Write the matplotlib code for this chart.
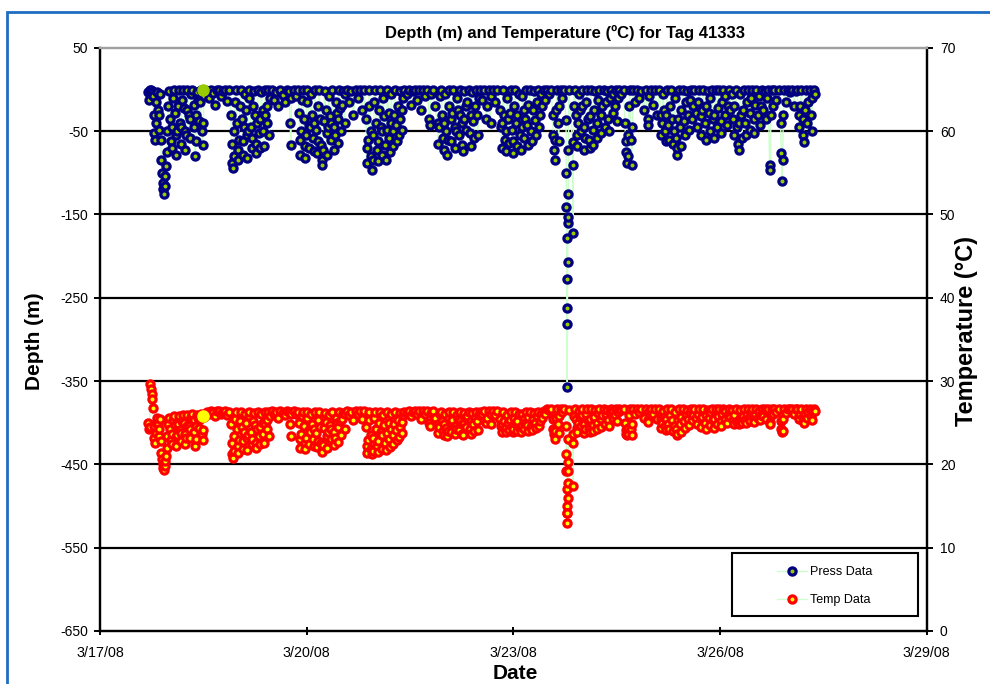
import matplotlib
matplotlib.use('Agg')
import matplotlib.pyplot as plt
import matplotlib.dates as mdates
from matplotlib.lines import Line2D
from matplotlib.patches import Rectangle
import numpy as np
from datetime import datetime

plt.rcParams['font.family'] = ['Liberation Sans', 'DejaVu Sans']
plt.rcParams['axes.unicode_minus'] = False

# time in days after 3/17/08 00:00, depth in m, temperature in degC
day = [
    # 3/17 evening - 3/18
    0.70, 0.71, 0.72, 0.73, 0.74, 0.75, 0.76, 0.77, 0.78, 0.79, 0.80, 0.81, 0.82, 0.83, 0.84, 0.85,
    0.86, 0.87, 0.88, 0.89, 0.90, 0.91, 0.92, 0.93, 0.94, 0.95, 0.96, 0.97, 0.98, 0.99, 1.00,
    1.02, 1.03, 1.04, 1.05, 1.06, 1.07, 1.09, 1.10, 1.11, 1.12, 1.13, 1.14, 1.16, 1.17, 1.18, 1.19, 1.20,
    1.22, 1.23, 1.24, 1.25, 1.26, 1.27, 1.29, 1.30, 1.31, 1.32, 1.34, 1.36, 1.37, 1.38, 1.39, 1.40, 1.41,
    1.43, 1.44, 1.45, 1.46, 1.48, 1.49, 1.50, 1.51, 1.52,
    1.55, 1.58, 1.61, 1.64, 1.67, 1.70, 1.73, 1.76, 1.79, 1.82, 1.85, 1.88,
    1.90, 1.91, 1.92, 1.93, 1.94, 1.95, 1.96, 1.97, 1.99, 2.00, 2.01, 2.02, 2.03, 2.04,
    2.06, 2.07, 2.08, 2.09, 2.10, 2.12, 2.13, 2.14, 2.15, 2.16, 2.17, 2.19, 2.20, 2.21, 2.22, 2.23,
    2.25, 2.26, 2.27, 2.28, 2.29, 2.31, 2.32, 2.33, 2.34, 2.36, 2.37, 2.38, 2.39, 2.40, 2.42, 2.43, 2.44,
    2.46, 2.47,
    2.50, 2.53, 2.56, 2.59, 2.62, 2.65, 2.68, 2.71, 2.74, 2.76, 2.77, 2.78, 2.81, 2.84, 2.87,
    # 3/19 - 3/20
    2.89, 2.90, 2.91, 2.92, 2.93, 2.94, 2.96, 2.97, 2.98, 2.99, 3.00, 3.01, 3.03, 3.04, 3.05, 3.06,
    3.08, 3.09, 3.10, 3.11, 3.12, 3.14, 3.15, 3.16, 3.17, 3.18, 3.20, 3.21, 3.22, 3.23, 3.24, 3.25, 3.26,
    3.28, 3.29, 3.30, 3.31, 3.32, 3.34, 3.35, 3.36, 3.37, 3.39, 3.40, 3.41, 3.42, 3.44, 3.45, 3.46, 3.47,
    3.49, 3.50, 3.51, 3.53, 3.55, 3.56,
    3.59, 3.62, 3.65, 3.68, 3.71, 3.74, 3.77, 3.80, 3.83,
    3.86, 3.87, 3.88, 3.89, 3.90, 3.91, 3.93, 3.94, 3.95, 3.96, 3.97, 3.98, 3.99,
    4.01, 4.02, 4.03, 4.04, 4.05, 4.06, 4.08, 4.09, 4.10, 4.11, 4.13, 4.14, 4.15, 4.16, 4.17,
    4.19, 4.20, 4.21, 4.22, 4.23, 4.25, 4.26, 4.27, 4.28, 4.30, 4.31, 4.32, 4.34, 4.35, 4.36,
    4.38, 4.39, 4.40, 4.42,
    4.45, 4.48, 4.51, 4.54, 4.57, 4.60, 4.63, 4.66, 4.69, 4.72, 4.75, 4.78, 4.79, 4.80, 4.83, 4.86,
    # 3/21 - 3/22
    4.90, 4.91, 4.92, 4.93, 4.95, 4.97, 4.98, 4.99, 5.00, 5.01, 5.03, 5.04, 5.05, 5.06, 5.07,
    5.09, 5.10, 5.11, 5.13, 5.15, 5.16, 5.17, 5.18, 5.20, 5.21, 5.22, 5.23,
    5.25, 5.26, 5.27, 5.28, 5.29, 5.31, 5.32, 5.33, 5.35, 5.37, 5.38, 5.39, 5.40,
    5.42, 5.43, 5.44, 5.46, 5.48, 5.49, 5.50, 5.52,
    5.55, 5.58, 5.61, 5.62, 5.64, 5.67, 5.68, 5.71, 5.74, 5.77, 5.80,
    5.82, 5.83, 5.84, 5.85, 5.87, 5.88, 5.89, 5.90, 5.91, 5.93, 5.94, 5.95, 5.96,
    5.98, 5.99, 6.00, 6.01, 6.02, 6.04, 6.05, 6.06, 6.08, 6.10, 6.11, 6.12, 6.13,
    6.15, 6.16, 6.17, 6.18, 6.20, 6.21, 6.22, 6.24, 6.26, 6.27, 6.28, 6.30,
    6.32, 6.33, 6.34, 6.36, 6.38, 6.39, 6.40, 6.42, 6.44, 6.46,
    6.49, 6.52, 6.55, 6.57, 6.58, 6.59, 6.60, 6.61, 6.62, 6.63, 6.65, 6.66, 6.67, 6.69, 6.71, 6.73,
    # deep dive on 3/23
    6.765, 6.768, 6.771, 6.774, 6.777, 6.780, 6.783, 6.786, 6.789, 6.792, 6.795, 6.798, 6.801, 6.805,
    6.860, 6.865, 6.870, 6.875,
    6.89, 6.91, 6.92, 6.93, 6.94, 6.95, 6.97, 6.98, 6.99, 7.00, 7.02, 7.03, 7.04, 7.05, 7.07,
    7.09, 7.10, 7.11, 7.12, 7.13, 7.15, 7.16, 7.17, 7.19, 7.21, 7.22, 7.23, 7.25,
    7.27, 7.28, 7.29, 7.31, 7.33, 7.34, 7.36, 7.38, 7.39, 7.40, 7.42, 7.44, 7.45, 7.47, 7.49,
    7.51, 7.52, 7.54,
    7.57, 7.60, 7.62, 7.63, 7.64, 7.65, 7.66, 7.67, 7.68, 7.69, 7.71, 7.72, 7.73, 7.74,
    7.77, 7.80, 7.83, 7.86, 7.89, 7.92, 7.95, 7.96, 7.97, 8.00, 8.03, 8.06, 8.09, 8.12,
    # 3/25 - 3/27
    8.14, 8.15, 8.16, 8.17, 8.19, 8.20, 8.21, 8.22, 8.23, 8.25, 8.26, 8.27, 8.29,
    8.31, 8.32, 8.33, 8.34, 8.36, 8.37, 8.38, 8.39, 8.40, 8.42, 8.43, 8.44, 8.46,
    8.48, 8.49, 8.50, 8.52, 8.54, 8.55, 8.56, 8.58, 8.60, 8.61, 8.63, 8.65,
    8.67, 8.68, 8.70, 8.72, 8.73, 8.74, 8.76, 8.78, 8.79, 8.80, 8.82, 8.84, 8.85, 8.86, 8.88,
    8.90, 8.91, 8.92, 8.94, 8.96, 8.97, 8.99, 9.01, 9.02, 9.03, 9.05, 9.07, 9.08, 9.10, 9.11,
    9.13, 9.15, 9.17,
    9.19, 9.20, 9.21, 9.23, 9.25, 9.26, 9.27, 9.28, 9.29, 9.31, 9.32, 9.33, 9.35,
    9.37, 9.38, 9.39, 9.41, 9.43, 9.44, 9.45, 9.47, 9.49, 9.50, 9.51, 9.53,
    9.55, 9.56, 9.58, 9.59, 9.61, 9.63, 9.65, 9.67, 9.68, 9.70, 9.72, 9.73, 9.74, 9.75,
    9.77, 9.79, 9.82, 9.85, 9.88, 9.89, 9.90, 9.91, 9.92, 9.93,
    9.96, 9.99, 10.02, 10.05, 10.08, 10.10, 10.12, 10.14, 10.15, 10.16, 10.18,
    10.20, 10.21, 10.22, 10.23, 10.25, 10.27, 10.28, 10.30, 10.32, 10.33, 10.34, 10.36, 10.38,
]

depth = [
    -3, -12, -2, 0, -1, -2, -4, -8, -30, -52, -60, -40, -15, -3, -25, -48,
    -30, -5, -60, -85, -100, -112, -120, -125, -116, -104, -92, -75, -50, -20, -2,
    -35, -62, -70, -45, -10, 0, -28, -55, -78, -50, -20, -1, -40, -65, -45, -12, 0,
    -22, -50, -72, -55, -25, 0, -30, -58, -35, -5, 0, -18, -45, -80, -62, -30, -3,
    -12, -38, -15, -1, -50, -66, -40, -8, 0,
    -2, -10, 0, -4, -18, -1, 0, -8, -2, 0, -14, -1,
    -30, -65, -88, -94, -80, -50, -15, 0, -40, -72, -85, -60, -20, 0,
    -35, -62, -78, -45, -5, -25, -55, -82, -50, -10, 0, -45, -70, -58, -20, -2,
    -30, -65, -76, -40, 0, -52, -70, -35, -3, -25, -50, -68, -30, 0, -40, -20, -1,
    -55, -10,
    0, -12, -3, -20, 0, -6, -15, 0, -2, -40, -66, -10, 0, -8, 0,
    -28, -60, -78, -50, -12, 0, -35, -68, -82, -55, -15, 0, -42, -70, -45, -5,
    -30, -58, -74, -40, 0, -48, -76, -62, -20, 0, -35, -66, -84, -90, -72, -38, -2,
    -25, -52, -78, -45, -8, -32, -60, -40, 0, -45, -72, -55, -15, -28, -64, -35, 0,
    -22, -50, -18, -2, -40, -5,
    0, -15, -2, -30, 0, -10, -1, -25, 0,
    -35, -70, -88, -60, -20, 0, -50, -80, -96, -85, -55, -15, 0,
    -40, -72, -86, -62, -25, 0, -45, -78, -50, -10, -32, -66, -84, -48, 0,
    -28, -58, -75, -40, -5, -50, -68, -30, 0, -42, -62, -20, -55, -35, -2,
    -25, -48, -10, 0,
    -5, 0, -18, -2, 0, -12, -1, -25, 0, -8, 0, -35, -42, -5, 0, -20,
    -40, -65, -45, -8, 0, -30, -58, -72, -40, -5, -50, -78, -60, -20, 0,
    -35, -62, -28, 0, -45, -70, -50, -10, -25, -55, -30, 0,
    -40, -66, -74, -35, -2, -20, -48, -15, 0, -52, -68, -30, -3,
    -38, -58, -20, 0, -30, -55, -10, 0,
    -12, 0, -35, -20, 0, -40, -8, 0, -15, 0, -25,
    -45, -70, -40, 0, -30, -60, -74, -50, -10, -35, -64, -28, 0,
    -48, -76, -62, -20, 0, -40, -68, -30, -5, -55, -72, -45, -8,
    -25, -58, -35, 0, -42, -66, -18, 0, -50, -62, -25, -2,
    -36, -55, -15, 0, -45, -30, -5, -20, 0, -12,
    0, -5, 0, -30, -55, -72, -85, -60, -25, 0, -40, -62, -20, 0, -10, 0,
    -36, -100, -141, -178, -228, -281, -357, -262, -207, -160, -153, -126, -72, 0,
    -63, -172, -90, -20,
    0, -30, -55, -68, -40, -5, -25, -50, -20, 0, -45, -72, -58, -15, 0,
    -35, -60, -70, -32, 0, -48, -66, -25, -2, -40, -58, -12, 0,
    -30, -52, -20, 0, -45, -15, -2, -35, -50, -10, 0, -28, -5, -20, 0,
    -38, -10, 0,
    -5, 0, -40, -62, -75, -88, -80, -55, -20, 0, -60, -90, -45, 0,
    -15, 0, -10, -2, -25, 0, -35, -42, -8, 0, -18, -1, -30, 0,
    -30, -55, -40, -5, -25, -50, -62, -30, 0, -42, -60, -20, 0,
    -35, -65, -50, -10, -58, -78, -70, -35, 0, -45, -68, -25, 0,
    -38, -55, -15, -2, -30, -48, -12, 0, -35, -20, 0, -28,
    -45, -15, 0, -32, -55, -25, 0, -40, -60, -20, -2, -28, -50, -10, 0,
    -35, -58, -30, 0, -45, -22, 0, -38, -52, -15, 0, -30, -8, -42, -20,
    0, -25, -5,
    -35, -55, -20, 0, -45, -65, -72, -40, -5, -30, -58, -25, 0,
    -40, -55, -15, 0, -28, -48, -10, 0, -35, -52, -18, 0,
    -30, -8, -42, -20, 0, -25, -2, -35, -10, 0, -90, -96, -30, 0,
    -20, 0, -12, 0, -40, -76, -110, -85, -30, 0,
    -15, 0, -3, 0, -20, -2, 0, -30, -45, -20, 0,
    -35, -55, -63, -25, 0, -40, -15, 0, -30, -50, -10, 0, -5,
]

temp = [
    25.0, 24.2, 24.5, 29.6, 29.0, 28.5, 27.8, 26.8, 24.6, 23.2, 22.6, 23.8, 25.0, 25.6, 24.8, 23.4,
    24.2, 25.5, 22.8, 21.4, 20.7, 20.0, 19.6, 19.3, 19.8, 20.4, 21.0, 22.0, 23.4, 24.9, 25.6,
    24.3, 22.9, 22.5, 23.7, 25.3, 25.8, 24.7, 23.3, 22.2, 23.5, 24.9, 25.8, 24.1, 22.8, 23.8, 25.2, 25.9,
    25.0, 23.6, 22.4, 23.2, 24.6, 25.9, 24.6, 23.2, 24.3, 25.7, 26.0, 25.3, 23.9, 22.2, 23.0, 24.6, 25.9,
    25.6, 24.4, 25.4, 26.0, 23.7, 22.9, 24.1, 25.7, 26.1,
    26.3, 26.0, 26.4, 26.3, 25.8, 26.4, 26.4, 26.1, 26.3, 26.4, 25.9, 26.3,
    24.8, 22.6, 21.2, 20.8, 21.6, 23.4, 25.5, 26.3, 24.2, 22.2, 21.4, 22.9, 25.2, 26.3,
    24.5, 22.8, 21.9, 23.9, 26.0, 25.0, 23.2, 21.7, 23.5, 25.8, 26.3, 23.9, 22.5, 23.1, 25.2, 26.2,
    24.7, 22.6, 22.0, 24.2, 26.3, 23.4, 22.4, 24.5, 26.1, 25.0, 23.6, 22.6, 24.8, 26.3, 24.3, 25.3, 26.3,
    23.4, 25.8,
    26.4, 26.0, 26.3, 25.6, 26.4, 26.2, 25.9, 26.4, 26.3, 24.9, 23.4, 26.0, 26.4, 26.1, 26.3,
    25.0, 23.0, 22.0, 23.6, 25.8, 26.3, 24.6, 22.6, 21.8, 23.2, 25.6, 26.3, 24.1, 22.4, 23.9, 26.0,
    24.8, 23.1, 22.2, 24.2, 26.3, 23.8, 22.1, 22.8, 25.3, 26.3, 24.5, 22.6, 21.7, 21.5, 22.3, 24.4, 26.2,
    25.1, 23.4, 22.0, 23.9, 25.9, 24.7, 23.0, 24.2, 26.3, 23.9, 22.3, 23.2, 25.6, 25.0, 22.7, 24.5, 26.3,
    25.2, 23.5, 25.4, 26.2, 24.3, 26.0,
    26.4, 25.9, 26.3, 25.3, 26.4, 26.1, 26.4, 25.5, 26.4,
    24.5, 22.2, 21.4, 22.9, 25.3, 26.3, 23.5, 21.8, 21.2, 21.6, 23.2, 25.6, 26.3,
    24.2, 22.2, 21.5, 22.8, 25.0, 26.3, 23.9, 21.9, 23.5, 25.9, 24.7, 22.6, 21.7, 23.8, 26.3,
    25.0, 23.1, 22.1, 24.2, 26.1, 23.5, 22.5, 24.8, 26.3, 24.1, 22.9, 25.3, 23.3, 24.5, 26.2,
    25.1, 23.8, 25.9, 26.3,
    26.2, 26.4, 25.8, 26.3, 26.4, 26.0, 26.4, 25.5, 26.4, 26.1, 26.4, 25.0, 24.6, 26.2, 26.4, 25.6,
    24.8, 23.8, 24.5, 26.0, 26.3, 25.2, 24.0, 23.5, 24.8, 26.1, 24.4, 23.4, 24.0, 25.6, 26.3,
    25.0, 23.9, 25.3, 26.3, 24.6, 23.6, 24.3, 25.9, 25.4, 24.1, 25.2, 26.3,
    24.8, 23.7, 23.5, 25.0, 26.2, 25.6, 24.5, 25.8, 26.3, 24.3, 23.7, 25.2, 26.2,
    24.9, 24.0, 25.6, 26.3, 25.2, 24.1, 25.9, 26.3,
    26.0, 26.4, 25.0, 25.6, 26.4, 24.8, 26.1, 26.4, 25.9, 26.4, 25.5,
    24.6, 23.9, 24.8, 26.3, 25.2, 24.2, 23.9, 24.5, 25.9, 25.0, 24.1, 25.3, 26.3,
    24.6, 23.9, 24.2, 25.6, 26.3, 24.8, 24.0, 25.2, 26.1, 24.4, 23.9, 24.6, 26.0,
    25.4, 24.3, 25.0, 26.3, 24.7, 24.0, 25.7, 26.3, 24.5, 24.1, 25.4, 26.2,
    25.0, 24.4, 25.8, 26.3, 24.6, 25.2, 26.1, 25.6, 26.4, 26.0,
    26.6, 26.5, 26.6, 25.4, 24.2, 23.6, 23.0, 24.0, 25.6, 26.6, 24.9, 23.8, 25.8, 26.6, 26.3, 26.7,
    24.6, 21.2, 19.2, 17.0, 15.0, 14.2, 13.0, 14.2, 16.0, 17.8, 19.2, 20.3, 23.0, 26.5,
    23.6, 17.4, 22.6, 25.8,
    26.6, 25.5, 24.4, 23.9, 25.0, 26.4, 25.7, 24.6, 25.9, 26.6, 24.8, 23.8, 24.3, 26.1, 26.6,
    25.3, 24.2, 23.9, 25.4, 26.6, 24.7, 24.0, 25.7, 26.5, 25.0, 24.3, 26.2, 26.6,
    25.5, 24.5, 25.9, 26.6, 24.8, 26.1, 26.5, 25.3, 24.6, 26.3, 26.6, 25.6, 26.4, 25.9, 26.6,
    25.2, 26.3, 26.6,
    26.5, 26.6, 25.0, 24.1, 23.7, 23.5, 23.6, 24.4, 25.9, 26.6, 24.2, 23.5, 24.8, 26.6,
    26.1, 26.6, 26.3, 26.6, 25.6, 26.6, 25.3, 25.1, 26.4, 26.6, 26.0, 26.6, 25.4, 26.6,
    25.4, 24.4, 25.0, 26.4, 25.7, 24.6, 24.1, 25.4, 26.6, 24.9, 24.2, 25.9, 26.6,
    25.3, 24.0, 24.6, 26.3, 24.2, 23.5, 23.7, 25.3, 26.6, 24.8, 23.9, 25.7, 26.6,
    25.2, 24.4, 26.1, 26.5, 25.4, 24.7, 26.2, 26.6, 25.3, 25.9, 26.6, 25.6,
    24.8, 26.1, 26.6, 25.4, 24.5, 25.7, 26.6, 25.0, 24.3, 25.9, 26.5, 25.6, 24.7, 26.3, 26.6,
    25.3, 24.4, 25.4, 26.6, 24.9, 25.8, 26.6, 25.2, 24.6, 26.1, 26.6, 25.4, 26.4, 25.0, 25.9,
    26.6, 25.7, 26.5,
    25.3, 24.9, 25.9, 26.6, 25.1, 25.0, 24.9, 25.3, 26.5, 25.6, 25.0, 25.8, 26.6,
    25.3, 25.0, 26.1, 26.6, 25.7, 25.2, 26.3, 26.6, 25.5, 25.1, 26.0, 26.6,
    25.6, 26.4, 25.3, 25.9, 26.6, 25.8, 26.6, 25.5, 26.4, 26.6, 25.1, 24.9, 25.9, 26.6,
    26.0, 26.6, 26.3, 26.6, 25.2, 24.2, 23.9, 24.0, 25.5, 26.6,
    26.2, 26.7, 26.6, 26.7, 26.1, 26.6, 26.7, 25.8, 25.4, 26.1, 26.7,
    25.7, 25.2, 25.0, 26.0, 26.7, 25.6, 26.3, 26.7, 25.8, 25.3, 26.4, 26.7, 26.4,
]

# the one highlighted (selected) sample
hl_day = [1.49]
hl_depth = [0]
hl_temp = [25.8]

depth_ticks = [-650, -550, -450, -350, -250, -150, -50, 50]
temp_ticks = [0, 10, 20, 30, 40, 50, 60, 70]
tick_days = [0, 3, 6, 9, 12]
date_labels = ['3/17/08', '3/20/08', '3/23/08', '3/26/08', '3/29/08']

start = mdates.date2num(datetime(2008, 3, 17))
t = start + np.array(day)
t_hl = start + np.array(hl_day)

fig = plt.figure(figsize=(9.9, 6.84), dpi=100)
ax = fig.add_axes([0.101, 0.0775, 0.835, 0.8525])
ax2 = ax.twinx()

line_c = '#CCFFCC'
press_kw = dict(color=line_c, lw=1.0, marker='o', ms=5.2, mec='#000080', mfc='#99CC00', mew=2.3)
temp_kw = dict(color=line_c, lw=1.0, marker='o', ms=5.2, mec='#FF0000', mfc='#FFFF00', mew=2.3)

for y in depth_ticks[1:-1]:
    ax.axhline(y, color='black', lw=1.6, zorder=0.5)

ax.plot(t, depth, zorder=2, **press_kw)
ax.plot(t_hl, hl_depth, 'o', ms=8, mfc='#99CC00', mec='#99CC00', zorder=3)
ax2.plot(t, temp, zorder=2, **temp_kw)
ax2.plot(t_hl, hl_temp, 'o', ms=8, mfc='#FFFF00', mec='#FFFF00', zorder=3)

ax.set_xlim(start, start + 12)
ax.set_ylim(-650, 50)
ax2.set_ylim(0, 70)
ax.set_yticks(depth_ticks)
ax2.set_yticks(temp_ticks)
ax.set_xticks(start + np.array(tick_days))
ax.set_xticklabels(date_labels)

for a in (ax, ax2):
    for s in ('left', 'right', 'bottom'):
        a.spines[s].set_color('black')
        a.spines[s].set_linewidth(1.6)
    a.spines['top'].set_color('#A0A0A0')
    a.spines['top'].set_linewidth(1.6)

ax.tick_params(axis='y', direction='out', length=4.5, width=1.4, labelsize=10, pad=4)
ax.tick_params(axis='x', direction='inout', length=6, width=1.4, labelsize=10.3, pad=8)
ax2.tick_params(axis='y', direction='out', length=4.5, width=1.4, labelsize=10, pad=5)

fig.text(565 / 990, 1 - 33 / 684, 'Depth (m) and Temperature (ºC) for Tag 41333',
         ha='center', va='center', fontsize=12, fontweight='bold')
fig.text(34 / 990, 1 - 341 / 684, 'Depth (m)', rotation=90, ha='center', va='center',
         fontsize=15, fontweight='bold')
fig.text(966 / 990, 1 - 331 / 684, 'Temperature (°C)', rotation=90, ha='center', va='center',
         fontsize=17, fontweight='bold')
# the reference crops this label at the bottom edge; keep it just inside
fig.text(515 / 990, 1 - 683 / 684, 'Date', ha='center', va='bottom',
         fontsize=15, fontweight='bold')

# legend box
fig.add_artist(Rectangle((732 / 990, 1 - 616 / 684), 186 / 990, 63 / 684,
                         transform=fig.transFigure, facecolor='white', edgecolor='black',
                         lw=1.5, zorder=3))
handles = [Line2D([], [], **press_kw), Line2D([], [], **temp_kw)]
leg = fig.legend(handles, ['Press Data', 'Temp Data'], loc='center left',
                 bbox_to_anchor=(766 / 990, 1 - 586 / 684), frameon=False, fontsize=9,
                 handlelength=2.4, handletextpad=0.2, labelspacing=1.3)
leg.set_zorder(5)

# blue chart-area border
fig.add_artist(Rectangle((7 / 990, -0.05), 1.2, 1 - 12 / 684 + 0.05,
                         transform=fig.transFigure, fill=False, edgecolor='#1F6DC0',
                         lw=2.0, zorder=10))

fig.savefig('out.png', dpi=100, facecolor='white')
